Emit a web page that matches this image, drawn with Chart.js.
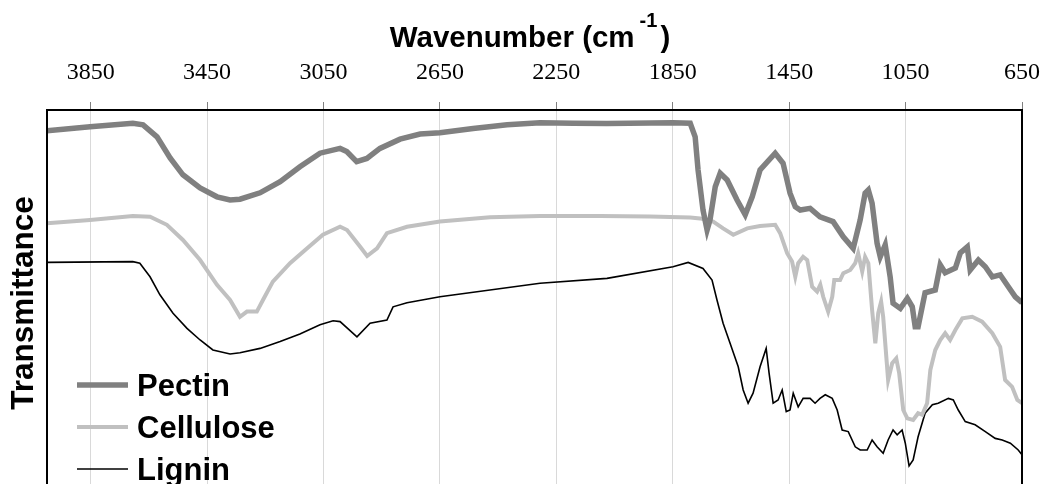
<!DOCTYPE html>
<html><head><meta charset="utf-8">
<script src="https://cdn.jsdelivr.net/npm/chart.js@4.4.1/dist/chart.umd.min.js"></script>
<style>html,body{margin:0;padding:0;background:#fff;overflow:hidden;width:1044px;height:484px}canvas{display:block}</style>
</head><body><canvas id="c" width="1044" height="500"></canvas>
<script>
const tickValues = [3850,3450,3050,2650,2250,1850,1450,1050,650];
const seriesNames = ['Pectin','Cellulose','Lignin'];

const pectinWn = [4000,3852,3705,3670,3622,3577,3533,3474,3416,3371,3337,3268,3199,3131,3062,2993,2970,2936,2901,2856,2787,2718,2650,2536,2419,2306,2192,2076,1849,1790,1773,1763,1746,1732,1722,1704,1687,1663,1629,1601,1577,1550,1498,1471,1447,1429,1412,1378,1344,1299,1264,1230,1206,1189,1178,1165,1148,1137,1120,1103,1093,1068,1044,1027,1017,1007,983,948,931,914,879,862,838,828,800,776,752,725,697,673,650];
const pectinT = [91.3,92.3,93.2,92.8,89.8,84.5,80.3,77,74.8,74,74.2,75.8,78.6,82.3,85.7,86.9,86.1,83.6,84.4,86.9,89.2,90.5,90.8,91.9,92.8,93.3,93.2,93.1,93.3,93.2,89.8,81.5,71.5,66.5,69,77.3,80.7,79,74,70.3,74.8,81.5,85.7,83.2,75.7,72.3,71.5,71.9,69.8,68.6,64.8,61.9,69,75.7,76.5,73.2,63.2,59.8,62.8,54.8,48.2,46.9,49.4,47.3,42.3,42.3,50.8,51.5,57.8,55.8,57,60.8,62.3,56.5,59,57.3,54.8,55.3,52.3,49.8,48.3];

const celluloseWn = [4000,3852,3705,3646,3588,3533,3474,3416,3371,3337,3313,3279,3258,3224,3165,3107,3052,2993,2969,2924,2900,2866,2832,2763,2650,2478,2306,2100,1928,1790,1756,1711,1677,1642,1594,1550,1498,1481,1457,1440,1429,1419,1402,1388,1371,1354,1343,1333,1316,1302,1295,1275,1264,1240,1223,1213,1199,1189,1178,1165,1154,1144,1134,1127,1110,1096,1082,1072,1058,1044,1024,1007,993,976,965,948,931,914,897,879,855,821,787,752,725,708,684,666,650];
const celluloseT = [68.2,69,70,69.8,67.8,64,59,52.8,49,44.8,46.1,46.1,49,53.6,58.2,61.9,65.3,67.3,66.5,62.3,60,61.9,65.7,67.3,68.6,69.7,70,70,69.9,69.6,69.4,68.6,66.9,65.3,66.9,67.5,67.8,65.7,60.7,58.6,54.8,58.2,59.8,59,52.3,51.1,52.8,49.8,46.1,49.8,54,54,55.7,56.5,58.2,60.7,56.1,59.8,58.2,46.5,38.2,45.7,48.6,44.8,29,33.2,34.4,30.7,21.5,19.4,19,20.7,20.3,23.2,31.5,36.5,39,40.7,39,41.5,44.4,44.8,43.6,40.7,37.3,29,27.3,24,23.2];

const ligninWn = [4000,3705,3681,3646,3612,3567,3519,3474,3430,3371,3337,3268,3199,3131,3062,3017,2993,2935,2890,2832,2811,2763,2650,2306,2076,1849,1797,1746,1715,1698,1677,1653,1625,1608,1591,1574,1550,1529,1519,1505,1488,1474,1460,1447,1436,1419,1402,1378,1361,1344,1326,1302,1285,1268,1247,1223,1206,1182,1165,1148,1127,1110,1093,1079,1062,1051,1038,1024,1007,983,958,938,903,886,869,845,811,776,742,718,690,663,650];
const ligninT = [58.4,58.6,58.2,54.8,50.3,45.7,41.9,39,36.5,35.5,35.8,36.9,38.6,40.5,42.8,43.8,43.6,39.8,43.2,44,47.3,48.3,49.8,53.2,54.4,57.3,58.4,56.9,54,49,43.2,38.2,32.3,26.5,23.2,25.7,32.3,36.9,30.7,23.2,24,26.5,21.1,21.5,25.7,22.3,24.4,24.4,23.2,24.4,25.3,24.4,21.5,16.5,16.1,12.3,11.5,11.5,14,12.3,10.7,14,16.5,15.3,16.5,13.2,7.5,9,14.8,20.7,22.8,23.2,24.4,24,21.5,18.6,17.8,16.1,14.4,14,13.2,11.5,10.3];

const toPts = (xs, ys) => xs.map((x, i) => ({x: x, y: ys[i]}));
const SANS = '"Liberation Sans", Arial, sans-serif';

const titlePlugin = {
  id: 'topTitle',
  afterDraw(chart) {
    const ctx = chart.ctx, a = chart.chartArea;
    const main = 'Wavenumber (cm', sup = '-1', close = ')';
    const mainFont = 'bold 29.5px ' + SANS, supFont = 'bold 20px ' + SANS;
    ctx.save();
    ctx.fillStyle = '#000';
    ctx.textBaseline = 'alphabetic';
    ctx.font = mainFont;
    const w1 = ctx.measureText(main).width, w3 = ctx.measureText(close).width;
    ctx.font = supFont;
    const w2 = ctx.measureText(sup).width;
    const gap1 = 5, gap2 = 3;
    const cx = (a.left + a.right) / 2 - 4.5;
    const x = cx - (w1 + gap1 + w2 + gap2 + w3) / 2;
    ctx.font = mainFont;
    ctx.fillText(main, x, 47);
    ctx.font = supFont;
    ctx.fillText(sup, x + w1 + gap1, 27);
    ctx.font = mainFont;
    ctx.fillText(close, x + w1 + gap1 + w2 + gap2, 47);
    ctx.restore();
  }
};

const framePlugin = {
  id: 'frame',
  afterDatasetsDraw(chart) {
    const ctx = chart.ctx, a = chart.chartArea;
    ctx.save();
    ctx.strokeStyle = '#000';
    ctx.lineWidth = 2;
    ctx.strokeRect(a.left, a.top, a.right - a.left, a.bottom - a.top);
    ctx.restore();
  }
};

const legendPlugin = {
  id: 'inLegend',
  afterDatasetsDraw(chart) {
    const ctx = chart.ctx, a = chart.chartArea;
    ctx.save();
    ctx.font = 'bold 31px ' + SANS;
    ctx.textBaseline = 'alphabetic';
    chart.data.datasets.forEach((ds, i) => {
      const y = a.top + 275 + i * 42;
      ctx.strokeStyle = ds.borderColor;
      ctx.lineWidth = ds.borderWidth;
      ctx.lineCap = 'butt';
      ctx.beginPath(); ctx.moveTo(a.left + 30, y); ctx.lineTo(a.left + 81, y); ctx.stroke();
      ctx.fillStyle = '#000';
      ctx.fillText(ds.label, a.left + 90, y + 11);
    });
    ctx.restore();
  }
};

new Chart(document.getElementById('c'), {
  type: 'line',
  data: {
    datasets: [
      {label: seriesNames[0], data: toPts(pectinWn, pectinT), borderColor: '#808080', borderWidth: 5.5, pointRadius: 0, tension: 0},
      {label: seriesNames[1], data: toPts(celluloseWn, celluloseT), borderColor: '#c0c0c0', borderWidth: 4, pointRadius: 0, tension: 0},
      {label: seriesNames[2], data: toPts(ligninWn, ligninT), borderColor: '#000000', borderWidth: 1.6, pointRadius: 0, tension: 0}
    ]
  },
  options: {
    responsive: false,
    animation: false,
    devicePixelRatio: 1,
    layout: {padding: {top: 0, right: 22, bottom: 4, left: 0}},
    plugins: {legend: {display: false}, tooltip: {enabled: false}},
    scales: {
      x: {
        type: 'linear', position: 'top', reverse: true, min: 650, max: 4000,
        afterBuildTicks: s => { s.ticks = tickValues.map(v => ({value: v})); },
        afterFit: s => { s.height = 110; s.paddingLeft = 0; s.paddingRight = 0; },
        grid: {color: '#d9d9d9', lineWidth: 1, tickColor: '#808080', tickLength: 8, drawOnChartArea: true},
        border: {display: false},
        ticks: {color: '#000', maxRotation: 0, autoSkip: false, padding: 15, font: {family: '"Liberation Serif", "Times New Roman", serif', size: 24}, callback: v => String(v)}
      },
      y: {
        min: 0, max: 96.5,
        afterFit: s => { s.width = 47; },
        grid: {display: false},
        border: {display: false},
        ticks: {display: false},
        title: {display: true, text: 'Transmittance', color: '#000', padding: {top: 5, bottom: 0}, font: {family: '"Liberation Sans", Arial, sans-serif', size: 31.5, weight: 'bold'}}
      }
    }
  },
  plugins: [framePlugin, legendPlugin, titlePlugin]
});
</script>
</body></html>
